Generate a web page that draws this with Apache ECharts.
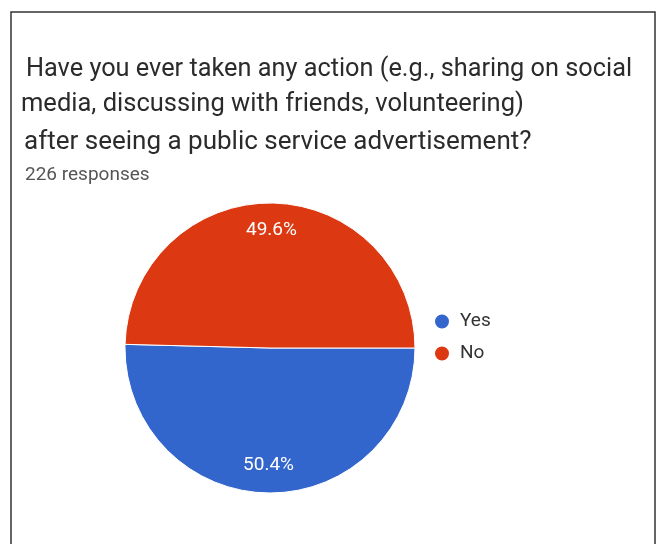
<!DOCTYPE html>
<html>
<head>
<meta charset="utf-8">
<script src="https://cdn.jsdelivr.net/npm/echarts@6/dist/echarts.min.js"></script>
<style>
  html, body { margin: 0; padding: 0; background: #fff; }
  #chart { width: 660px; height: 544px; }
</style>
</head>
<body>
<div id="chart"></div>
<script>
const titleLines = [
  "Have you ever taken any action (e.g., sharing on social",
  "media, discussing with friends, volunteering)",
  "after seeing a public service advertisement?"
];
const subtitleText = "226 responses";
const categories = ["Yes", "No"];
const values = [50.4, 49.6];
const colors = ["#3366cc", "#dc3912"];

const pieData = categories.map((c, i) => ({ name: c, value: values[i], itemStyle: { color: colors[i] } }));

const chart = echarts.init(document.getElementById('chart'), null, { renderer: 'canvas' });
const font = 'Roboto, "Noto Sans", Arial, sans-serif';

const titleLeft = [26, 21, 24];
const titleTop = [57, 92, 129];
const titleSize = [25.3, 25.5, 26];

chart.setOption({
  backgroundColor: '#fff',
  animation: false,
  title: titleLines.map((t, i) => ({
    text: t, left: titleLeft[i], top: titleTop[i], padding: 0,
    textStyle: { fontSize: titleSize[i], fontWeight: 'normal', color: '#2b2b2b', fontFamily: font }
  })).concat([{
    text: subtitleText, left: 25, top: 166, padding: 0,
    textStyle: { fontSize: 19, fontWeight: 'normal', color: '#555', fontFamily: font }
  }]),
  graphic: [{
    type: 'rect', silent: true,
    shape: { x: 11, y: 12, width: 644, height: 560 },
    style: { fill: 'none', stroke: '#333', lineWidth: 1.5 }
  }],
  legend: {
    orient: 'vertical', left: 433, top: 312, padding: 0,
    icon: 'circle', itemWidth: 16, itemHeight: 16, itemGap: 13,
    data: categories,
    textStyle: { fontSize: 19, color: '#333', fontFamily: font, padding: [0, 0, 0, 5] }
  },
  series: [{
    type: 'pie', center: [270, 348], radius: [0, 145], startAngle: 0, clockwise: true,
    data: pieData,
    label: { show: false }, labelLine: { show: false },
    itemStyle: { borderColor: '#fff', borderWidth: 1 }
  }, {
    type: 'pie', center: [270, 348], radius: [84, 145], startAngle: 0, clockwise: true,
    silent: true, legendHoverLink: false,
    data: categories.map((c, i) => ({ name: c, value: values[i] })),
    itemStyle: { color: 'rgba(0,0,0,0)' },
    label: {
      show: true, position: 'inside', formatter: '{c}%',
      color: '#fff', fontSize: 19, fontFamily: font
    },
    labelLine: { show: false }
  }]
});
</script>
</body>
</html>
